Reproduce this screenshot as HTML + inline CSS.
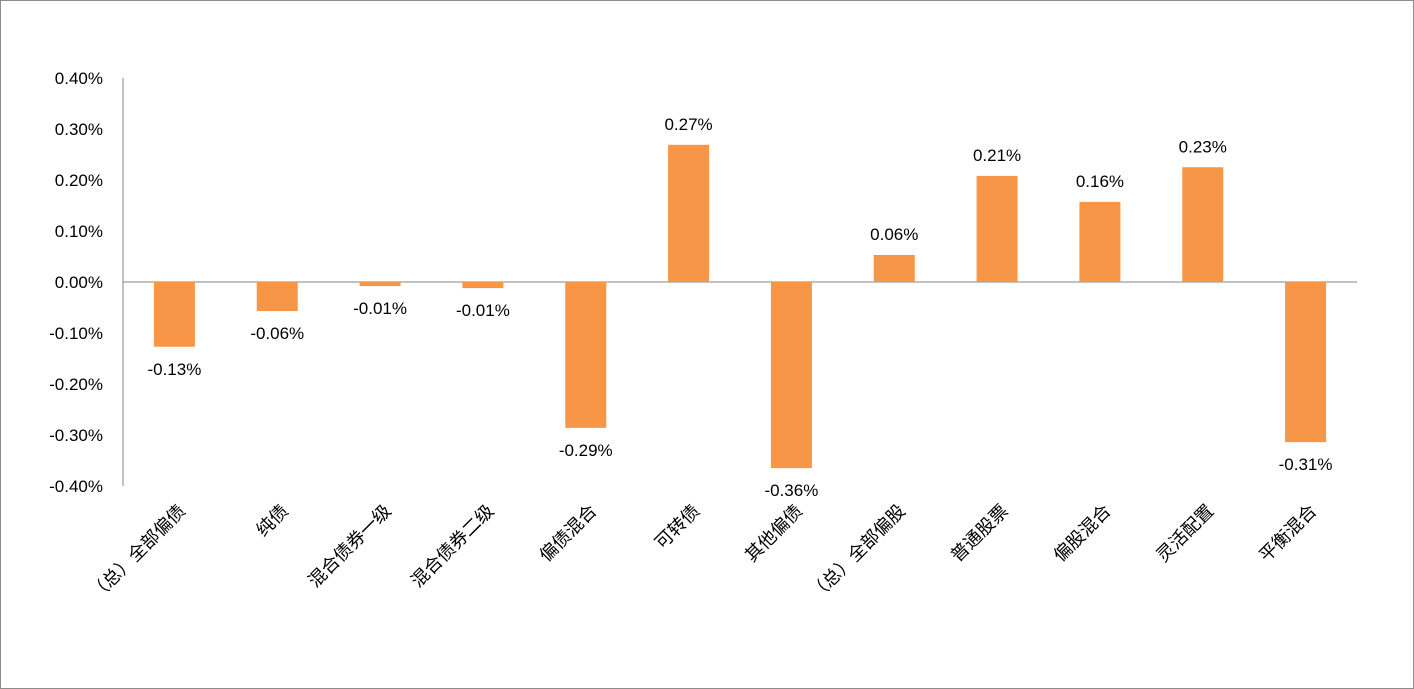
<!DOCTYPE html>
<html><head><meta charset="utf-8"><style>
html,body{margin:0;padding:0;background:#fff;}
svg{display:block;font-family:"Liberation Sans","Noto Sans CJK SC",sans-serif;}
</style></head><body>
<svg id="chart" width="1414" height="689">
<rect x="0.5" y="0.5" width="1413" height="688" fill="#fff" stroke="#8c8c8c"/>
<g id="g"></g>
</svg>
<script>
const categories=["（总）全部偏债","纯债","混合债券一级","混合债券二级","偏债混合","可转债","其他偏债","（总）全部偏股","普通股票","偏股混合","灵活配置","平衡混合"];
const values=[-0.127,-0.057,-0.008,-0.012,-0.286,0.269,-0.365,0.053,0.208,0.157,0.225,-0.314];
const valueLabels=["-0.13%","-0.06%","-0.01%","-0.01%","-0.29%","0.27%","-0.36%","0.06%","0.21%","0.16%","0.23%","-0.31%"];
const yTicks=[0.4,0.3,0.2,0.1,0,-0.1,-0.2,-0.3,-0.4];
const yTickLabels=["0.40%","0.30%","0.20%","0.10%","0.00%","-0.10%","-0.20%","-0.30%","-0.40%"];
const NS="http://www.w3.org/2000/svg";
const g=document.getElementById('g');
const x0=123,x1=1357,yTop=78,yBot=486,vMax=0.4,vMin=-0.4;
const y=v=>yTop+(vMax-v)/(vMax-vMin)*(yBot-yTop);
const step=(x1-x0)/categories.length;
const cx=i=>x0+step*(i+0.5);
function mk(t,a){const e=document.createElementNS(NS,t);for(const k in a)e.setAttribute(k,a[k]);g.appendChild(e);return e;}
const ax=mk('line',{x1:x0,y1:yTop,x2:x0,y2:yBot,stroke:'#868686'});


yTicks.forEach((v,i)=>{
 const t=mk('text',{x:103,y:y(v)+6,'text-anchor':'end','font-size':17,fill:'#000'});
 t.textContent=yTickLabels[i];
 
 
});
const zl=mk('line',{x1:x0,y1:y(0),x2:x1,y2:y(0),stroke:'#868686'});


const bw=41;
values.forEach((v,i)=>{
 const yt=Math.min(y(v),y(0)),h=Math.abs(y(v)-y(0));
 const r=mk('rect',{x:cx(i)-bw/2,y:yt,width:bw,height:h,fill:'#f79646'});
 
 
 const ly=v>=0?y(v)-15:y(v)+28;
 const t=mk('text',{x:cx(i),y:ly,'text-anchor':'middle','font-size':17,fill:'#000'});
 t.textContent=valueLabels[i];
 
 
 const c=mk('text',{x:cx(i)+12,y:512,'text-anchor':'end','font-size':18,fill:'#000',transform:`rotate(-45 ${cx(i)+12} 512)`});
 c.textContent=categories[i];
 
 
});
</script>
</body></html>
